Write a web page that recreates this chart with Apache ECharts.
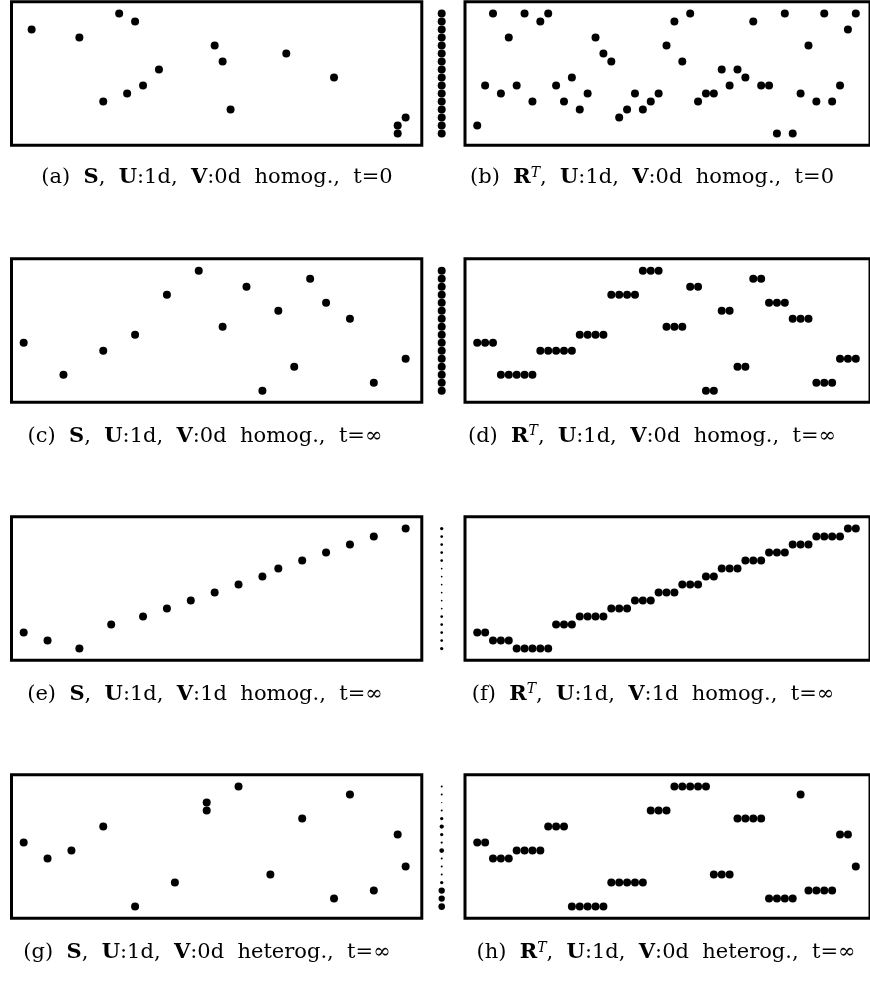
<!DOCTYPE html>
<html><head><meta charset="utf-8">
<script src="https://cdn.jsdelivr.net/npm/echarts@6/dist/echarts.min.js"></script>
<style>html,body{margin:0;padding:0;background:#fff}#c{width:870px;height:981px}</style>
</head><body><div id="c"></div>
<script>
// ---- data ----
const levels = [0,1,2,3,4,5,6,7,8,9,10,11,12,13,14,15];
const rIndex = Array.from({length:49},(_,i)=>i);

const aS_x = [1,7,10,12,13,14,15,17,24,25,26,33,39,47,47,48];
const aS_y = [13,12,4,15,5,14,6,8,11,9,3,10,7,1,0,2];
const bR_y = [1,6,15,5,12,6,15,4,14,15,6,4,7,3,5,12,10,9,2,3,5,3,4,5,11,14,9,15,4,5,5,8,6,8,7,14,6,6,0,15,0,5,11,4,15,4,6,13,15];

const cS_x = [0,5,10,14,18,22,25,28,30,32,34,36,38,41,44,48];
const cS_y = [6,2,5,7,12,15,8,13,0,10,3,14,11,9,1,4];
const dR_y = [6,6,6,2,2,2,2,2,5,5,5,5,5,7,7,7,7,12,12,12,12,15,15,15,8,8,8,13,13,0,0,10,10,3,3,14,14,11,11,11,9,9,9,1,1,1,4,4,4];

const eS_x = [0,3,7,11,15,18,21,24,27,30,32,35,38,41,44,48];
const eS_y = [2,1,0,3,4,5,6,7,8,9,10,11,12,13,14,15];
const fR_y = [2,2,1,1,1,0,0,0,0,0,3,3,3,4,4,4,4,5,5,5,6,6,6,7,7,7,8,8,8,9,9,10,10,10,11,11,11,12,12,12,13,13,13,14,14,14,14,15,15];

const gS_x = [0,3,6,10,14,19,23,23,27,31,35,39,41,44,47,48];
const gS_y = [8,6,7,10,0,3,13,12,15,4,11,1,14,2,9,5];
const hR_y = [8,8,6,6,6,7,7,7,7,10,10,10,0,0,0,0,0,3,3,3,3,3,12,12,12,15,15,15,15,15,4,4,4,11,11,11,11,1,1,1,1,14,2,2,2,2,9,9,5];

// V weights (dot diameters of the V column), by level 0..15
const vHomog0 = [8,8,8,8,8,8,8,8,8,8,8,8,8,8,8,8];
const vHomog1 = [3.3,2.7,2.7,2.7,2.7,1.7,1.7,1.7,1.7,1.7,1.7,2.7,2.7,2.7,2.7,3.3];
const vHeterog = [6.7,6.3,6.3,3.3,2.0,2.0,2.0,4.7,2.3,3.3,4.3,3.3,2.0,1.3,2.0,2.0];

const captions = [
  '(a) {b|S}, {b|U}:1d, {b|V}:0d homog., t=0',
  '(b) {b|R}{sup|T}, {b|U}:1d, {b|V}:0d homog., t=0',
  '(c) {b|S}, {b|U}:1d, {b|V}:0d homog., t=∞',
  '(d) {b|R}{sup|T}, {b|U}:1d, {b|V}:0d homog., t=∞',
  '(e) {b|S}, {b|U}:1d, {b|V}:1d homog., t=∞',
  '(f) {b|R}{sup|T}, {b|U}:1d, {b|V}:1d homog., t=∞',
  '(g) {b|S}, {b|U}:1d, {b|V}:0d heterog., t=∞',
  '(h) {b|R}{sup|T}, {b|U}:1d, {b|V}:0d heterog., t=∞'
];

// ---- layout ----
const FONT = "'DejaVu Serif', 'Liberation Serif', serif";
const FS = 21;
const rowTops = [1.7, 258.8, 516.7, 774.7];
const capY = [178, 436.5, 694.5, 953];
const capX = [[217,652],[205,652],[205,653],[207,666]];
const GH = 143.5;

const rows = [
  {S:[aS_x,aS_y], R:bR_y, V:vHomog0},
  {S:[cS_x,cS_y], R:dR_y, V:vHomog0},
  {S:[eS_x,eS_y], R:fR_y, V:vHomog1},
  {S:[gS_x,gS_y], R:hR_y, V:vHeterog}
];

const grid=[], xAxis=[], yAxis=[], series=[], title=[];
rows.forEach((r,k)=>{
  const top = rowTops[k];
  const base = grid.length;
  grid.push({left:11.5, top, width:410.3, height:GH, show:true, borderColor:'#000', borderWidth:3, backgroundColor:'transparent'});
  grid.push({left:465, top, width:410.3, height:GH, show:true, borderColor:'#000', borderWidth:3, backgroundColor:'transparent'});
  grid.push({left:437.7, top, width:8, height:GH, show:false});
  const xr = [[-1.53,50.03],[-1.55,49.8],[-1,1]];
  for (let j=0;j<3;j++){
    xAxis.push({type:'value', gridIndex:base+j, min:xr[j][0], max:xr[j][1], show:false});
    yAxis.push({type:'value', gridIndex:base+j, min:-1.45, max:16.49, show:false});
  }
  const dot = {type:'scatter', symbol:'circle', itemStyle:{color:'#000', opacity:1}, silent:true};
  series.push(Object.assign({}, dot, {xAxisIndex:base, yAxisIndex:base, symbolSize:8,
    data:r.S[0].map((x,i)=>[x, r.S[1][i]])}));
  series.push(Object.assign({}, dot, {xAxisIndex:base+1, yAxisIndex:base+1, symbolSize:8,
    data:rIndex.map((x,i)=>[x, r.R[i]])}));
  series.push(Object.assign({}, dot, {xAxisIndex:base+2, yAxisIndex:base+2,
    symbolSize:(v)=>v[2],
    data:levels.map((l)=>[0, l, r.V[l]])}));
  for (let j=0;j<2;j++){
    title.push({text:captions[k*2+j].replace(/ /g,'  '), left:capX[k][j], top:capY[k], textAlign:'center', textVerticalAlign:'middle', padding:0,
      textStyle:{fontFamily:FONT, fontSize:FS, fontWeight:'normal', color:'#000', lineHeight:24,
        rich:{b:{fontFamily:FONT, fontSize:FS, fontWeight:'bold', color:'#000', lineHeight:24},
              sup:{fontFamily:FONT, fontSize:14, fontStyle:'italic', color:'#000', lineHeight:15, verticalAlign:'top'}}}});
  }
});

const chart = echarts.init(document.getElementById('c'), null, {renderer:'canvas'});
chart.setOption({animation:false, backgroundColor:'#fff', title, grid, xAxis, yAxis, series});
</script>
</body></html>
